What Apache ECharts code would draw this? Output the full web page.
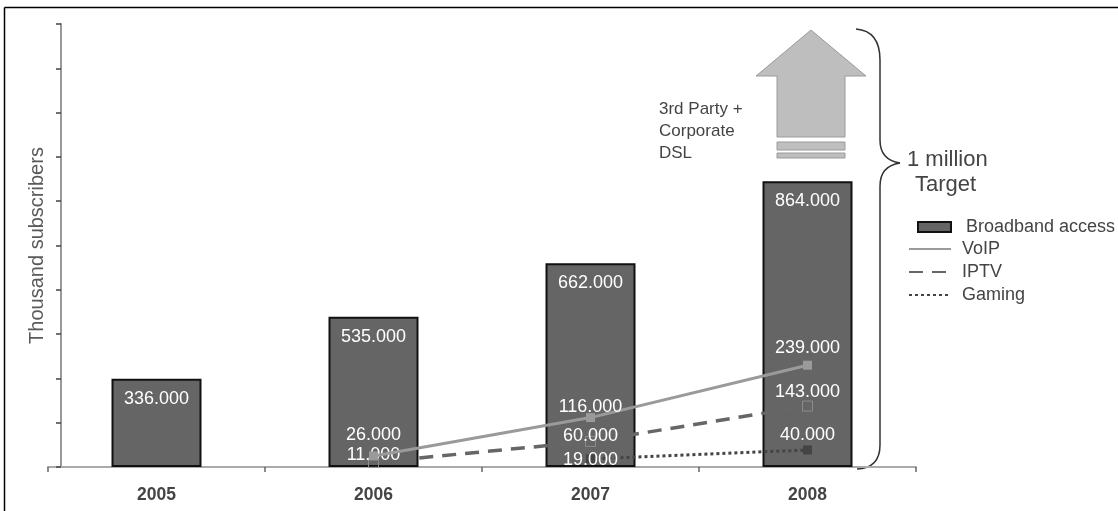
<!DOCTYPE html>
<html><head><meta charset="utf-8">
<script src="https://cdn.jsdelivr.net/npm/echarts@6/dist/echarts.min.js"></script>
<style>html,body{margin:0;padding:0;background:#fff}#c{width:1118px;height:511px}</style>
</head><body><div id="c"></div>
<script>
// ---- data ----
const years = ['2005', '2006', '2007', '2008'];
// Broadband access: bar heights as drawn against the (unlabelled) y axis grid 0-1000
const broadbandHeights = [199, 339, 460, 645];
// values printed inside the bars (thousand subscribers)
const broadbandLabels = ['336.000', '535.000', '662.000', '864.000'];
const voip = [null, 26, 116, 239];
const iptv = [null, 11, 60, 143];
const gaming = [null, null, 19, 40];
const annotationLines = ['3rd Party +', 'Corporate', 'DSL'];
const targetLines = ['1 million', 'Target'];
const yAxisName = 'Thousand subscribers';
const seriesNames = ['Broadband access', 'VoIP', 'IPTV', 'Gaming'];

// ---- label fine-tuning (style only, vertical pixel nudges per point) ----
const voipLabelNudge = [0, -3, 7, 0];
const iptvLabelNudge = [0, 5, 7, -2];
const gamingLabelNudge = [0, 0, 14, -2];

// ---- chart ----
const FONT = "'Liberation Sans', Arial, sans-serif";
const chart = echarts.init(document.getElementById('c'), null, {renderer: 'canvas'});
const fmtK = p => (p.value == null ? '' : p.value + '.000');

const lineLabel = (dist) => ({
  show: true, position: 'top', distance: dist, color: '#fff',
  fontSize: 18, fontFamily: FONT, formatter: fmtK
});
const withNudge = (values, nudge) => values.map((v, i) =>
  v == null ? null : {value: v, label: {offset: [0, nudge[i]]}});

const braceStyle = {stroke: '#333', lineWidth: 1.5, fill: null};
const graphics = [
  // frame
  {type: 'line', shape: {x1: 4.5, y1: 7.5, x2: 1118, y2: 7.5}, style: {stroke: '#000', lineWidth: 1.5}, silent: true},
  {type: 'line', shape: {x1: 4.5, y1: 7.5, x2: 4.5, y2: 511}, style: {stroke: '#000', lineWidth: 1.5}, silent: true},
  // big arrow
  {type: 'polygon', shape: {points: [[811, 30], [866, 76], [845, 76], [845, 137], [777, 137], [777, 76], [756, 76]]},
   style: {fill: '#bebebe', stroke: '#9a9a9a', lineWidth: 1}, silent: true},
  {type: 'rect', shape: {x: 777, y: 142, width: 68, height: 8}, style: {fill: '#bebebe', stroke: '#9a9a9a', lineWidth: 1}, silent: true},
  {type: 'rect', shape: {x: 777, y: 153, width: 68, height: 5}, style: {fill: '#bebebe', stroke: '#9a9a9a', lineWidth: 1}, silent: true},
  // brace
  {type: 'bezierCurve', shape: {x1: 856, y1: 29, x2: 880, y2: 60, cpx1: 880, cpy1: 31}, style: braceStyle, silent: true},
  {type: 'line', shape: {x1: 880, y1: 60, x2: 880, y2: 140}, style: braceStyle, silent: true},
  {type: 'bezierCurve', shape: {x1: 880, y1: 140, x2: 900, y2: 163, cpx1: 880, cpy1: 160}, style: braceStyle, silent: true},
  {type: 'bezierCurve', shape: {x1: 900, y1: 163, x2: 880, y2: 186, cpx1: 880, cpy1: 166}, style: braceStyle, silent: true},
  {type: 'line', shape: {x1: 880, y1: 186, x2: 880, y2: 445}, style: braceStyle, silent: true},
  {type: 'bezierCurve', shape: {x1: 880, y1: 445, x2: 857, y2: 469, cpx1: 880, cpy1: 468}, style: braceStyle, silent: true}
];
annotationLines.forEach((t, i) => graphics.push({
  type: 'text', left: 659, top: 101 + i * 22,
  style: {text: t, fill: '#444', font: '17px ' + FONT}, silent: true
}));
targetLines.forEach((t, i) => graphics.push({
  type: 'text', left: i === 0 ? 907 : 915, top: 149 + i * 25,
  style: {text: t, fill: '#444', font: '22px ' + FONT}, silent: true
}));

const option = {
  animation: false,
  textStyle: {fontFamily: FONT},
  grid: {left: 48, right: 202, top: 24, bottom: 44, containLabel: false},
  legend: [
    {
      data: [{name: seriesNames[0], icon: 'rect', itemStyle: {color: '#656565', borderColor: '#111', borderWidth: 2}}],
      left: 917, top: 218, padding: 0, itemWidth: 33, itemHeight: 10,
      textStyle: {fontSize: 18, color: '#444', padding: [0, 0, 0, 10]}
    },
    {
      data: seriesNames.slice(1).map(n => ({name: n, itemStyle: {opacity: 0}})),
      orient: 'vertical', left: 908, top: 240, padding: 0, itemGap: 5,
      itemWidth: 42, itemHeight: 12,
      textStyle: {fontSize: 18, color: '#444', padding: [0, 0, 0, 6]}
    }
  ],
  xAxis: {
    type: 'category', data: years, boundaryGap: true,
    axisLine: {show: true, lineStyle: {color: '#aaa', width: 2}},
    axisTick: {show: true, length: 5, lineStyle: {color: '#666', width: 1.5}},
    axisLabel: {fontSize: 17.5, fontWeight: 'bold', color: '#444', margin: 19},
    splitLine: {show: false}
  },
  yAxis: [
    {
      type: 'value', min: 0, max: 1000, interval: 100, position: 'left', offset: -13,
      name: yAxisName, nameLocation: 'middle', nameGap: 14, nameRotate: 90,
      nameTextStyle: {fontSize: 20, color: '#5a5a5a'},
      axisLine: {show: true, lineStyle: {color: '#999', width: 2}},
      axisTick: {show: true, length: 5, lineStyle: {color: '#444', width: 1.5}},
      axisLabel: {show: false}, splitLine: {show: false}
    },
    {type: 'value', min: 0, max: 1040, show: false, splitLine: {show: false}}
  ],
  series: [
    {
      name: seriesNames[0], type: 'bar', data: broadbandHeights, barWidth: 90, yAxisIndex: 0,
      itemStyle: {color: '#656565', borderColor: '#111', borderWidth: 2},
      label: {show: true, position: 'insideTop', distance: 11, color: '#fff', fontSize: 18, fontFamily: FONT,
              formatter: p => broadbandLabels[p.dataIndex]},
      z: 1
    },
    {
      name: seriesNames[1], type: 'line', data: withNudge(voip, voipLabelNudge), yAxisIndex: 1,
      symbol: 'rect', symbolSize: 9, showAllSymbol: true,
      lineStyle: {color: '#9a9a9a', width: 3},
      itemStyle: {color: '#9a9a9a'},
      label: lineLabel(4), z: 5
    },
    {
      name: seriesNames[2], type: 'line', data: withNudge(iptv, iptvLabelNudge), yAxisIndex: 1,
      symbol: 'rect', symbolSize: 10, showAllSymbol: true,
      lineStyle: {color: '#666', width: 3.5, type: [14, 9]},
      itemStyle: {color: 'rgba(0,0,0,0)', borderColor: '#8c8c8c', borderWidth: 1},
      label: lineLabel(-2), z: 4
    },
    {
      name: seriesNames[3], type: 'line', data: withNudge(gaming, gamingLabelNudge), yAxisIndex: 1,
      symbol: 'rect', symbolSize: 9, showAllSymbol: true,
      lineStyle: {color: '#444', width: 3, type: [3, 3]},
      itemStyle: {color: '#444'},
      label: lineLabel(-1), z: 3
    }
  ],
  graphic: graphics
};
chart.setOption(option);
</script>
</body></html>
